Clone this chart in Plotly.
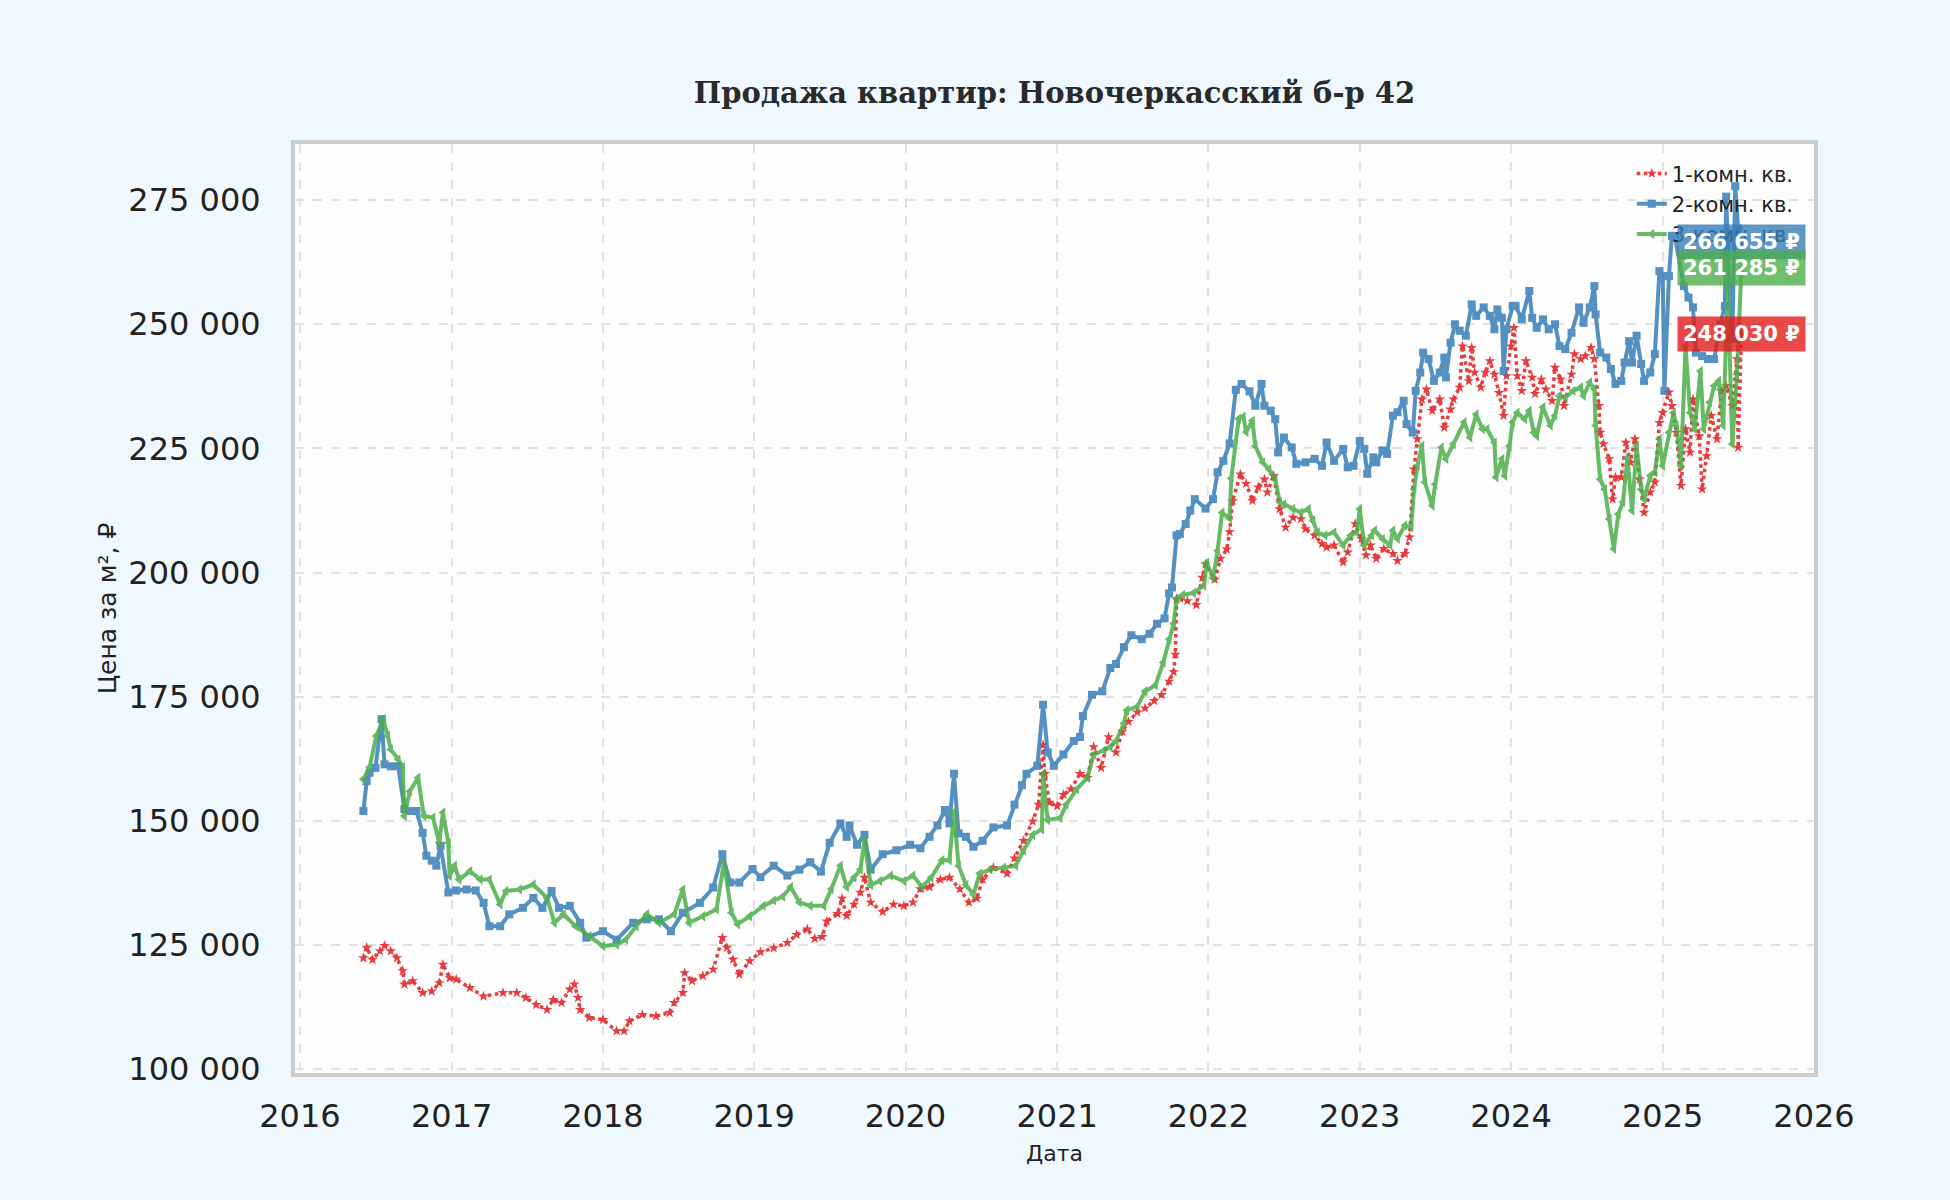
import pandas as pd
import plotly.graph_objects as go

one_room_t = [
    2016.42, 2016.44, 2016.48, 2016.53, 2016.56, 2016.60, 2016.64, 2016.68, 2016.69, 2016.745,
    2016.81, 2016.87, 2016.92, 2016.945, 2016.99, 2017.03, 2017.12, 2017.21, 2017.34, 2017.43,
    2017.49, 2017.56, 2017.63, 2017.67, 2017.725, 2017.78, 2017.81, 2017.835, 2017.85, 2017.91,
    2018.00, 2018.09, 2018.14, 2018.175, 2018.26, 2018.35, 2018.44, 2018.47, 2018.53, 2018.54,
    2018.59, 2018.66, 2018.73, 2018.79, 2018.82, 2018.86, 2018.90, 2018.97, 2019.04, 2019.13,
    2019.22, 2019.28, 2019.35, 2019.40, 2019.45, 2019.48, 2019.55, 2019.58, 2019.61, 2019.66,
    2019.70, 2019.73, 2019.77, 2019.85, 2019.92, 2019.99, 2020.05, 2020.10, 2020.16, 2020.23,
    2020.29, 2020.36, 2020.42, 2020.47, 2020.51, 2020.58, 2020.67, 2020.72, 2020.78, 2020.84,
    2020.88, 2020.91, 2020.92, 2020.95, 2021.00, 2021.04, 2021.09, 2021.15, 2021.20, 2021.24,
    2021.29, 2021.34, 2021.39, 2021.43, 2021.47, 2021.53, 2021.58, 2021.64, 2021.69, 2021.74,
    2021.77, 2021.78, 2021.79, 2021.86, 2021.92, 2021.96, 2021.98, 2022.04, 2022.08, 2022.12,
    2022.14, 2022.16, 2022.21, 2022.25, 2022.29, 2022.33, 2022.37, 2022.39, 2022.43, 2022.47,
    2022.51, 2022.56, 2022.61, 2022.64, 2022.70, 2022.75, 2022.78, 2022.83, 2022.89, 2022.92,
    2022.97, 2023.01, 2023.04, 2023.07, 2023.11, 2023.16, 2023.22, 2023.25, 2023.30, 2023.33,
    2023.36, 2023.38, 2023.41, 2023.44, 2023.48, 2023.53, 2023.56, 2023.60, 2023.62, 2023.66,
    2023.68, 2023.72, 2023.74, 2023.76, 2023.80, 2023.83, 2023.86, 2023.89, 2023.92, 2023.95,
    2023.97, 2024.00, 2024.02, 2024.04, 2024.07, 2024.10, 2024.14, 2024.16, 2024.20, 2024.23,
    2024.27, 2024.29, 2024.33, 2024.35, 2024.40, 2024.42, 2024.46, 2024.49, 2024.53, 2024.55,
    2024.58, 2024.59, 2024.61, 2024.65, 2024.67, 2024.69, 2024.73, 2024.76, 2024.79, 2024.82,
    2024.85, 2024.88, 2024.92, 2024.95, 2024.98, 2025.00, 2025.04, 2025.06, 2025.09, 2025.12,
    2025.15, 2025.18, 2025.20, 2025.24, 2025.26, 2025.29, 2025.32, 2025.36, 2025.39, 2025.42,
    2025.46, 2025.49, 2025.50, 2025.52,
]
one_room_price = [
    122400, 124500, 122100, 123800, 124900, 123800, 122400, 119800, 117100, 117800,
    115400, 115700, 117400, 121100, 118400, 118100, 116400, 114700, 115400, 115400,
    114400, 113000, 112000, 114000, 113400, 116100, 117100, 114400, 112000, 110400,
    110000, 107700, 107700, 109700, 111000, 110700, 111400, 113400, 115400, 119400,
    117800, 118800, 120100, 126500, 124500, 122100, 119100, 121800, 123600, 124400,
    125500, 127100, 128200, 126300, 126700, 129800, 131300, 134400, 130900, 133200,
    135600, 138600, 133600, 131700, 133200, 132900, 133600, 136300, 136700, 138200,
    138600, 136300, 133600, 134400, 138200, 140600, 139400, 142500, 146000, 149900,
    153300, 165300, 159500, 153700, 153000, 155300, 156400, 159500, 158700, 164900,
    160700, 166900, 163800, 168000, 170000, 171900, 172700, 174200, 175400, 178100,
    180000, 183500, 194700, 194300, 193500, 199000, 201700, 198600, 202800, 204700,
    208200, 214400, 219800, 217900, 214500, 217200, 218800, 216200, 219500, 212800,
    209100, 211100, 210800, 208800, 207500, 205800, 205100, 205500, 202100, 204100,
    209800, 206800, 203500, 205500, 202800, 204800, 203800, 202400, 203800, 207100,
    220800, 226900, 234900, 236900, 232600, 234900, 229200, 232900, 234900, 237300,
    245600, 238600, 245300, 240300, 237300, 240300, 242600, 239900, 236200, 231600,
    239600, 245600, 249300, 239600, 236600, 242600, 239300, 236000, 238900, 236900,
    234600, 241300, 238900, 233600, 239900, 244000, 243000, 243600, 245300, 243000,
    233600, 228200, 225900, 222900, 214800, 219200, 219200, 226200, 222200, 226900,
    218800, 212100, 216200, 218200, 230200, 232200, 236300, 233600, 228200, 217500,
    228900, 224200, 234900, 227500, 216800, 223500, 231600, 226900, 236600, 237600,
    233600, 243000, 225200, 248030,
]

two_room_t = [
    2016.42, 2016.44, 2016.46, 2016.50, 2016.54, 2016.56, 2016.60, 2016.65, 2016.69, 2016.73,
    2016.77, 2016.81, 2016.835, 2016.87, 2016.90, 2016.93, 2016.98, 2017.03, 2017.10, 2017.16,
    2017.21, 2017.25, 2017.32, 2017.38, 2017.47, 2017.54, 2017.60, 2017.66, 2017.71, 2017.78,
    2017.85, 2017.89, 2018.00, 2018.09, 2018.20, 2018.29, 2018.37, 2018.45, 2018.53, 2018.64,
    2018.73, 2018.79, 2018.84, 2018.90, 2018.99, 2019.04, 2019.13, 2019.22, 2019.30, 2019.37,
    2019.44, 2019.50, 2019.57, 2019.61, 2019.63, 2019.68, 2019.73, 2019.77, 2019.85, 2019.94,
    2020.03, 2020.10, 2020.16, 2020.21, 2020.26, 2020.29, 2020.32, 2020.35, 2020.40, 2020.45,
    2020.51, 2020.58, 2020.67, 2020.72, 2020.77, 2020.80, 2020.87, 2020.91, 2020.94, 2020.98,
    2021.04, 2021.11, 2021.15, 2021.17, 2021.23, 2021.30, 2021.35, 2021.39, 2021.44, 2021.49,
    2021.56, 2021.61, 2021.66, 2021.71, 2021.74, 2021.76, 2021.79, 2021.81, 2021.85, 2021.88,
    2021.91, 2021.98, 2022.03, 2022.06, 2022.10, 2022.14, 2022.18, 2022.22, 2022.27, 2022.31,
    2022.35, 2022.37, 2022.41, 2022.44, 2022.46, 2022.50, 2022.55, 2022.58, 2022.64, 2022.70,
    2022.75, 2022.78, 2022.83, 2022.89, 2022.92, 2022.96, 2023.00, 2023.03, 2023.05, 2023.09,
    2023.11, 2023.15, 2023.18, 2023.22, 2023.25, 2023.29, 2023.31, 2023.35, 2023.37, 2023.40,
    2023.42, 2023.455, 2023.49, 2023.53, 2023.56, 2023.57, 2023.60, 2023.63, 2023.66, 2023.70,
    2023.74, 2023.77, 2023.82, 2023.86, 2023.89, 2023.91, 2023.94, 2023.95, 2023.97, 2024.01,
    2024.03, 2024.07, 2024.12, 2024.14, 2024.17, 2024.21, 2024.25, 2024.29, 2024.32, 2024.36,
    2024.40, 2024.45, 2024.48, 2024.52, 2024.55, 2024.56, 2024.59, 2024.63, 2024.66, 2024.69,
    2024.73, 2024.75, 2024.78, 2024.80, 2024.83, 2024.86, 2024.88, 2024.92, 2024.95, 2024.98,
    2025.00, 2025.01, 2025.04, 2025.06, 2025.08, 2025.14, 2025.17, 2025.20, 2025.22, 2025.26,
    2025.30, 2025.34, 2025.38, 2025.41, 2025.42, 2025.44, 2025.46, 2025.48, 2025.50, 2025.52,
]
two_room_price = [
    152000, 158000, 159700, 160700, 170500, 161400, 161000, 161000, 152400, 152000,
    152000, 147600, 143000, 142000, 141000, 145000, 135600, 136000, 136200, 136000,
    133500, 128800, 128800, 131200, 132500, 134500, 132500, 135900, 132500, 132900,
    129500, 126500, 127800, 126100, 129500, 130200, 130200, 127800, 131500, 133500,
    136600, 143300, 137600, 137600, 140300, 138700, 141000, 139000, 140200, 141700,
    139800, 145600, 149500, 146800, 149100, 145200, 147200, 140200, 143300, 144100,
    145200, 144500, 146800, 149100, 152200, 149500, 159500, 147500, 146800, 144800,
    146000, 148700, 149100, 153300, 157200, 159500, 161100, 173400, 163800, 161100,
    163400, 166100, 166900, 171100, 175400, 176100, 180800, 181600, 185000, 187400,
    186600, 187700, 189700, 190800, 195800, 197000, 207500, 207800, 209800, 212500,
    214800, 212900, 214800, 220200, 222500, 226000, 236800, 238000, 236500, 233600,
    238000, 233600, 232600, 230900, 224200, 227200, 225200, 221900, 222200, 222900,
    221500, 226200, 222500, 224900, 221200, 221500, 226500, 224900, 219900, 223200,
    222200, 224600, 223900, 231600, 232300, 234600, 229900, 228200, 236600, 240300,
    244300, 243000, 238600, 240300, 243300, 239300, 246300, 250000, 248700, 247700,
    254000, 251700, 253400, 251700, 249000, 253000, 251300, 240600, 249000, 253700,
    253700, 251000, 256700, 251300, 249300, 251000, 249000, 250000, 245600, 245000,
    248300, 253400, 250300, 253400, 257700, 252000, 244300, 243300, 241000, 238000,
    238600, 242300, 246600, 242300, 247700, 242000, 238600, 240300, 244000, 260700,
    259700, 236600, 259700, 267800, 267800, 257700, 255400, 253400, 244300, 243600,
    243000, 243000, 250000, 253700, 275700, 257700, 247000, 277800, 269300, 266655,
]

three_room_t = [
    2016.42, 2016.46, 2016.505, 2016.55, 2016.58, 2016.60, 2016.65, 2016.68, 2016.69, 2016.725,
    2016.78, 2016.82, 2016.88, 2016.92, 2016.945, 2016.98, 2016.99, 2017.02, 2017.05, 2017.12,
    2017.19, 2017.25, 2017.32, 2017.36, 2017.45, 2017.54, 2017.63, 2017.68, 2017.74, 2017.82,
    2017.91, 2018.00, 2018.09, 2018.15, 2018.22, 2018.29, 2018.37, 2018.47, 2018.53, 2018.57,
    2018.66, 2018.75, 2018.80, 2018.85, 2018.89, 2018.97, 2019.06, 2019.13, 2019.19, 2019.24,
    2019.30, 2019.37, 2019.46, 2019.51, 2019.57, 2019.61, 2019.66, 2019.70, 2019.73, 2019.77,
    2019.83, 2019.90, 2019.99, 2020.05, 2020.11, 2020.17, 2020.24, 2020.29, 2020.32, 2020.35,
    2020.40, 2020.45, 2020.49, 2020.56, 2020.65, 2020.73, 2020.78, 2020.84, 2020.90, 2020.91,
    2020.94, 2021.02, 2021.06, 2021.13, 2021.20, 2021.24, 2021.31, 2021.35, 2021.39, 2021.44,
    2021.46, 2021.53, 2021.58, 2021.65, 2021.70, 2021.74, 2021.77, 2021.79, 2021.83, 2021.90,
    2021.97, 2021.99, 2022.03, 2022.06, 2022.09, 2022.14, 2022.15, 2022.20, 2022.23, 2022.25,
    2022.29, 2022.31, 2022.36, 2022.40, 2022.44, 2022.47, 2022.50, 2022.56, 2022.61, 2022.66,
    2022.69, 2022.72, 2022.77, 2022.83, 2022.89, 2022.94, 2022.98, 2023.00, 2023.03, 2023.08,
    2023.10, 2023.15, 2023.20, 2023.22, 2023.25, 2023.30, 2023.34, 2023.36, 2023.38, 2023.41,
    2023.43, 2023.48, 2023.50, 2023.54, 2023.57, 2023.62, 2023.69, 2023.73, 2023.77, 2023.81,
    2023.84, 2023.89, 2023.90, 2023.94, 2023.96, 2023.99, 2024.01, 2024.04, 2024.09, 2024.12,
    2024.15, 2024.17, 2024.21, 2024.26, 2024.29, 2024.32, 2024.36, 2024.41, 2024.46, 2024.48,
    2024.52, 2024.55, 2024.56, 2024.59, 2024.62, 2024.65, 2024.68, 2024.71, 2024.74, 2024.77,
    2024.80, 2024.83, 2024.86, 2024.88, 2024.92, 2024.95, 2024.98, 2025.00, 2025.04, 2025.07,
    2025.09, 2025.12, 2025.15, 2025.18, 2025.21, 2025.25, 2025.27, 2025.31, 2025.34, 2025.37,
    2025.40, 2025.43, 2025.46, 2025.49, 2025.52,
]
three_room_price = [
    158400, 160800, 167100, 170500, 167100, 164400, 162400, 160800, 151000, 156000,
    158700, 151000, 150700, 145600, 151700, 145600, 138900, 141000, 138200, 139900,
    138200, 138200, 133200, 135900, 136200, 137200, 134500, 129500, 131200, 128800,
    126800, 124800, 125100, 126100, 128800, 131200, 129500, 131200, 136200, 129500,
    130800, 132200, 141600, 131500, 129200, 130800, 132900, 134000, 134800, 136700,
    133600, 132900, 132900, 136300, 141000, 136700, 138600, 140200, 146000, 137100,
    137900, 139000, 137900, 139000, 136700, 138600, 142100, 142100, 151800, 141000,
    137100, 135200, 139400, 140200, 140600, 141000, 144100, 147200, 148300, 159500,
    150200, 150600, 153300, 156400, 158700, 163400, 164200, 164900, 166100, 169600,
    172300, 173000, 176100, 177300, 181900, 186600, 189700, 194700, 195500, 195900,
    197400, 202000, 198900, 204400, 212100, 210900, 219000, 231000, 231400, 228300,
    230600, 225500, 222200, 220800, 218800, 214200, 213800, 212800, 212100, 212800,
    210500, 208100, 207500, 208100, 205500, 207500, 208100, 212800, 205500, 207500,
    208500, 206800, 205500, 208500, 206800, 209500, 209100, 216800, 221500, 225500,
    218200, 213500, 217800, 225200, 222900, 225900, 230300, 227200, 231900, 228900,
    228900, 226200, 219200, 222900, 219500, 225500, 230300, 232200, 230900, 232600,
    228200, 227500, 233300, 229600, 231600, 235600, 235200, 236600, 237300, 235600,
    238300, 237000, 229600, 218800, 216800, 210800, 204800, 211800, 214200, 223200,
    212500, 225500, 216800, 214800, 219500, 220200, 226900, 221500, 228200, 232200,
    229600, 221500, 245600, 232200, 228900, 240600, 228900, 234300, 237600, 238600,
    229600, 257400, 225900, 240000, 261285,
]

series_names = ["1-комн. кв.", "2-комн. кв.", "3-комн. кв."]
colors = ["#e41a1c", "#377eb8", "#4daf4a"]
last_labels = ["248 030 ₽", "266 655 ₽", "261 285 ₽"]


def to_dates(years):
    out = []
    for y in years:
        start = pd.Timestamp(year=int(y), month=1, day=1)
        out.append(start + pd.Timedelta(days=round((y - int(y)) * 365)))
    return out


def rgba(hex_color, alpha):
    h = hex_color.lstrip("#")
    r, g, b = int(h[0:2], 16), int(h[2:4], 16), int(h[4:6], 16)
    return f"rgba({r},{g},{b},{alpha})"


def build_figure():
    data = [
        (one_room_t, one_room_price, "dot", 3.5, "star", 8),
        (two_room_t, two_room_price, "solid", 4, "square", 8),
        (three_room_t, three_room_price, "solid", 4, "triangle-left", 9),
    ]

    fig = go.Figure()
    for i, (t, price, dash, width, symbol, size) in enumerate(data):
        fig.add_trace(
            go.Scatter(
                x=to_dates(t),
                y=price,
                name=series_names[i],
                mode="lines+markers",
                line=dict(color=colors[i], width=width, dash=dash),
                marker=dict(symbol=symbol, size=size, color=colors[i]),
                opacity=0.85,
            )
        )

    # label with the latest price at the end of each series
    for i, (t, price, *_rest) in enumerate(data):
        fig.add_annotation(
            x=to_dates(t)[-1],
            y=price[-1],
            text=f"<b>{last_labels[i]}</b>",
            showarrow=False,
            xanchor="center",
            yanchor="middle",
            font=dict(family="DejaVu Sans", size=21, color="white"),
            bgcolor=rgba(colors[i], 0.8),
            borderpad=5,
        )

    axis_common = dict(
        showgrid=True,
        gridcolor="#e2e2e2",
        gridwidth=2,
        griddash="dash",
        showline=True,
        linecolor="#cccccc",
        linewidth=4,
        mirror=True,
        zeroline=False,
        ticks="",
        tickfont=dict(family="DejaVu Sans", size=32, color="#222222"),
    )

    fig.update_xaxes(
        **axis_common,
        range=["2015-12-20", "2026-01-01"],
        dtick="M12",
        tick0="2016-01-01",
        tickformat="%Y",
        ticklabelstandoff=12,
        title=dict(text="Дата", font=dict(family="DejaVu Sans", size=22, color="#222222"), standoff=12),
    )
    fig.update_yaxes(
        **axis_common,
        range=[99250, 286300],
        dtick=25000,
        tick0=100000,
        tickformat=",d",
        ticklabelstandoff=24,
        title=dict(text="Цена за м², ₽", font=dict(family="DejaVu Sans", size=25, color="#222222"), standoff=6),
    )

    fig.update_layout(
        width=1950,
        height=1200,
        separators=", ",
        paper_bgcolor="#f0f8ff",
        plot_bgcolor="#fdfdfd",
        margin=dict(l=295, r=136, t=144, b=127),
        title=dict(
            text="<b>Продажа квартир: Новочеркасский б-р 42</b>",
            font=dict(family="DejaVu Serif", size=29, color="#2a2a2a"),
            x=0.5,
            xref="paper",
            xanchor="center",
            y=1 - 93 / 1200,
            yanchor="middle",
        ),
        legend=dict(
            x=0.99,
            y=0.99,
            xanchor="right",
            yanchor="top",
            bgcolor="rgba(0,0,0,0)",
            font=dict(family="DejaVu Sans", size=21, color="#222222"),
        ),
        showlegend=True,
    )
    return fig


if __name__ == "__main__":
    fig = build_figure()
    # drop the default page margin so the figure fills the window
    fig.write_html(
        "out.html",
        config={"displayModeBar": False},
        post_script="document.body.style.margin = '0';",
    )
